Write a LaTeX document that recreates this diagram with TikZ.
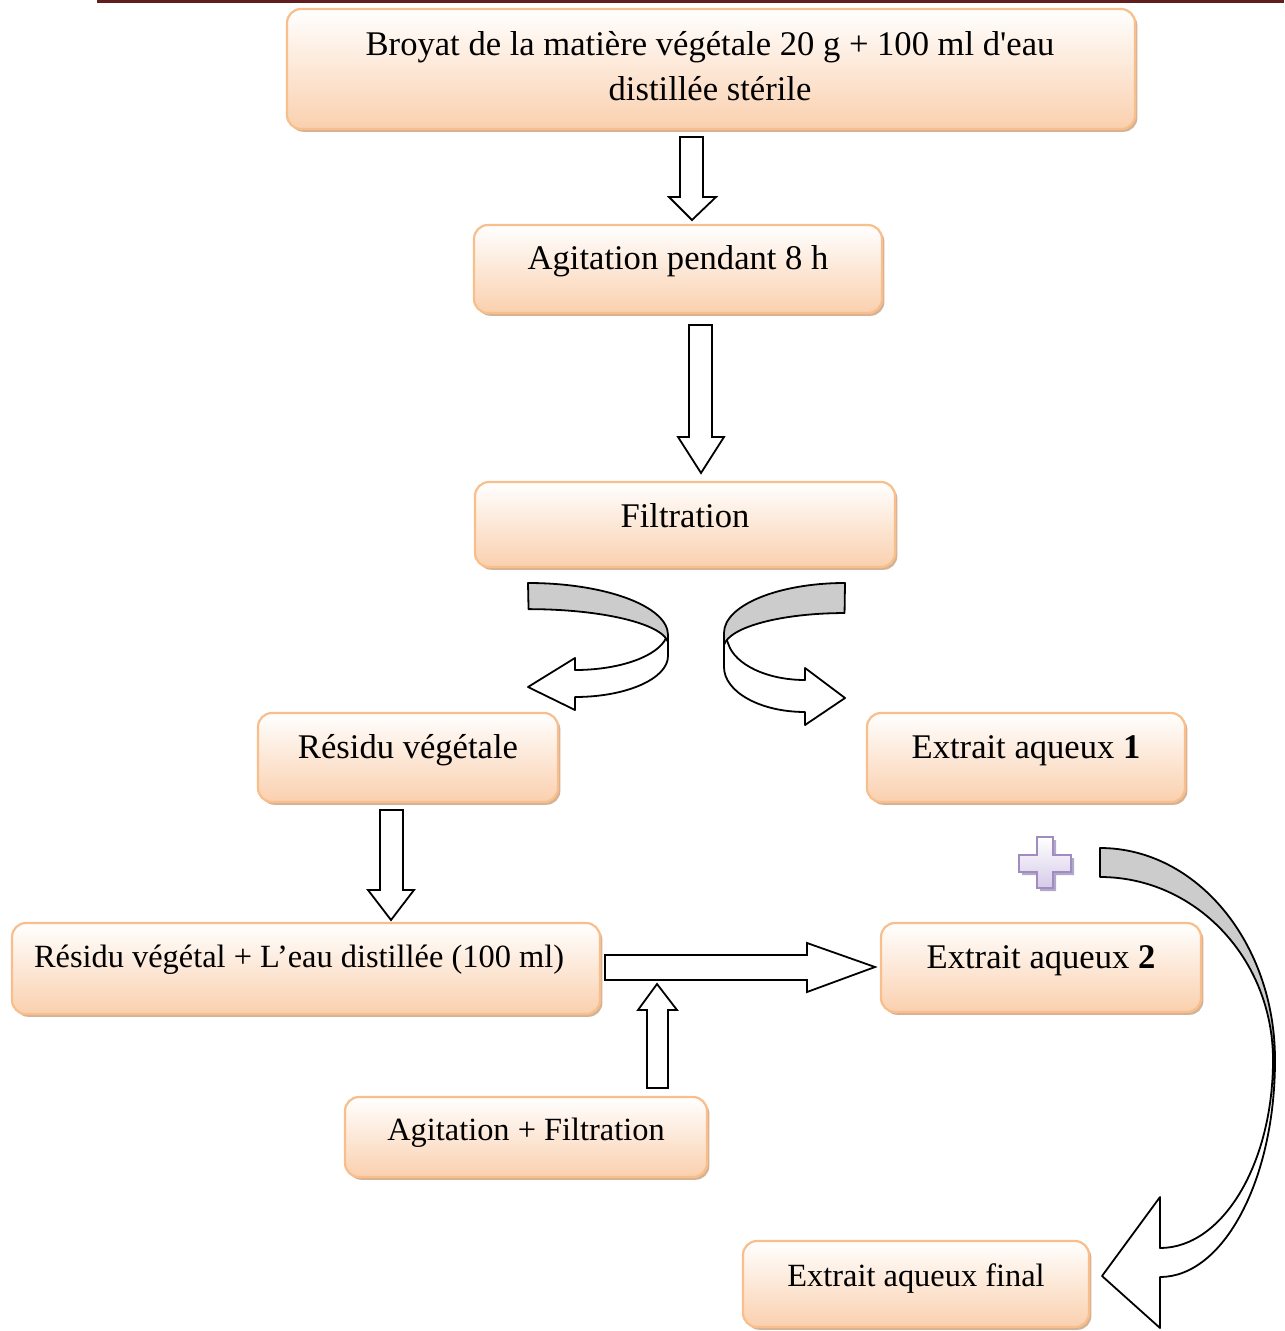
\documentclass[tikz,border=0pt]{standalone}
\usepackage{fontspec}
\setmainfont{Liberation Serif}
\usetikzlibrary{fit,shadows}

\definecolor{boxedge}{RGB}{248,190,140}
\definecolor{boxfill}{RGB}{250,208,174}
\definecolor{boxshade}{RGB}{205,165,130}
\definecolor{rulecol}{RGB}{96,30,30}
\definecolor{ribbon}{RGB}{204,204,204}
\definecolor{plusedge}{RGB}{160,140,192}
\definecolor{plusfill}{RGB}{214,202,232}
\definecolor{plusshade}{RGB}{160,145,190}

\tikzset{
  box/.style={draw=boxedge, line width=1.1pt, rounded corners=7pt,
    top color=white, bottom color=boxfill, inner sep=0pt,
    drop shadow={shadow xshift=1.2pt, shadow yshift=-1.4pt, fill=boxshade, opacity=0.85}},
  lbl/.style={anchor=base, inner sep=0pt, font=\fontsize{17.3}{21}\selectfont},
  lblsm/.style={lbl, font=\fontsize{16.2}{20}\selectfont},
  blockarrow/.style={draw=black, fill=white, line width=0.9pt, line join=miter},
  ribbonw/.style={draw=black, fill=white, line width=0.9pt, line join=round},
  ribbong/.style={draw=black, fill=ribbon, line width=0.9pt, line join=round},
}

\begin{document}
\begin{tikzpicture}[x=0.5pt,y=-0.5pt]
\useasboundingbox (0,0) rectangle (1284,1331);
\begin{scope}
\clip (0,0) rectangle (1284,1331);

% header rule
\draw[rulecol, line width=1.5pt] (97,1.5) -- (1284,1.5);

% process boxes
\node[box, fit={(287,9) (1135,129)}] (broyat) {};
\node[box, fit={(474,225) (882,313)}] (agit) {};
\node[box, fit={(475,482) (895,567)}] (filt) {};
\node[box, fit={(258,713) (558,802)}] (res) {};
\node[box, fit={(867,713) (1185,802)}] (ext1) {};
\node[box, fit={(12,923) (600,1014)}] (resw) {};
\node[box, fit={(881,923) (1201,1012)}] (ext2) {};
\node[box, fit={(345,1097) (707,1177)}] (agfilt) {};
\node[box, fit={(743,1241) (1089,1327)}] (extf) {};

% labels
\node[lbl] (broyat-a) at (710,56) {Broyat de la matière végétale 20 g + 100 ml d\textquotesingle eau};
\node[lbl] (broyat-b) at (710,101) {distillée stérile};
\node[lbl] (agit-t) at (678,270) {Agitation pendant 8 h};
\node[lbl] (filt-t) at (685,527) {Filtration};
\node[lbl] (res-t) at (408,758) {Résidu végétale};
\node[lbl] (ext1-t) at (1026,758) {Extrait aqueux \textbf{1}};
\node[lblsm] (resw-t) at (299,967) {Résidu végétal + L’eau distillée (100 ml)};
\node[lbl] (ext2-t) at (1041,968) {Extrait aqueux \textbf{2}};
\node[lblsm] (agfilt-t) at (526,1140) {Agitation + Filtration};
\node[lblsm] (extf-t) at (916,1286) {Extrait aqueux final};

% straight block arrows
\draw[blockarrow] (680,137) -- (703,137) -- (703,197) -- (716,197) -- (692,220)
  -- (669,197) -- (680,197) -- cycle;
\draw[blockarrow] (689,325) -- (712,325) -- (712,437) -- (724,437) -- (701,473)
  -- (678,437) -- (689,437) -- cycle;
\draw[blockarrow] (380,810) -- (403,810) -- (403,890) -- (414,890) -- (391,920)
  -- (368,890) -- (380,890) -- cycle;
\draw[blockarrow] (605,955) -- (807,955) -- (807,943) -- (875,967) -- (807,992)
  -- (807,980) -- (605,980) -- cycle;
\draw[blockarrow] (647,1088) -- (647,1010) -- (638,1010) -- (657,984) -- (677,1010)
  -- (668,1010) -- (668,1088) -- cycle;

% curved ribbon arrow towards the residue
\draw[ribbonw] (668,635) -- (668,656)
  arc[start angle=0, end angle=90, x radius=93, y radius=41]
  -- (575,710) -- (528,687) -- (575,658) -- (575,670)
  arc[start angle=90, end angle=17, x radius=93, y radius=40] -- cycle;
\draw[ribbong] (528,583)
  arc[start angle=-90, end angle=0, x radius=140, y radius=52]
  -- (668,642)
  arc[start angle=-5, end angle=-90, x radius=140, y radius=36] -- cycle;

% curved ribbon arrow towards the first extract
\draw[ribbonw] (724,633) -- (724,667)
  arc[start angle=180, end angle=90, x radius=81, y radius=45]
  -- (805,725) -- (845,698) -- (805,668) -- (805,680)
  arc[start angle=90, end angle=170, x radius=78, y radius=44] -- cycle;
\draw[ribbong] (845,583)
  arc[start angle=-90, end angle=-180, x radius=121, y radius=50]
  -- (724,645)
  arc[start angle=185, end angle=270, x radius=121, y radius=35] -- cycle;

% long curved arrow towards the final extract
\draw[ribbonw] (1275,1060)
  arc[start angle=0, end angle=90, x radius=115, y radius=217]
  -- (1160,1328) -- (1102,1276) -- (1160,1197) -- (1160,1248)
  arc[start angle=90, end angle=0, x radius=113, y radius=188] -- cycle;
\draw[ribbong] (1100,848)
  arc[start angle=-90, end angle=0, x radius=175, y radius=212]
  -- (1273,1060)
  arc[start angle=0, end angle=-90, x radius=173, y radius=183] -- cycle;

% plus sign
\fill[plusshade, opacity=0.8, shift={(3,3)}]
  (1037,837) -- (1053,837) -- (1053,855) -- (1071,855) -- (1071,872) -- (1053,872)
  -- (1053,888) -- (1037,888) -- (1037,872) -- (1019,872) -- (1019,855) -- (1037,855) -- cycle;
\draw[plusedge, line width=0.7pt, top color=white, bottom color=plusfill]
  (1037,837) -- (1053,837) -- (1053,855) -- (1071,855) -- (1071,872) -- (1053,872)
  -- (1053,888) -- (1037,888) -- (1037,872) -- (1019,872) -- (1019,855) -- (1037,855) -- cycle;
\end{scope}
\end{tikzpicture}
\end{document}
